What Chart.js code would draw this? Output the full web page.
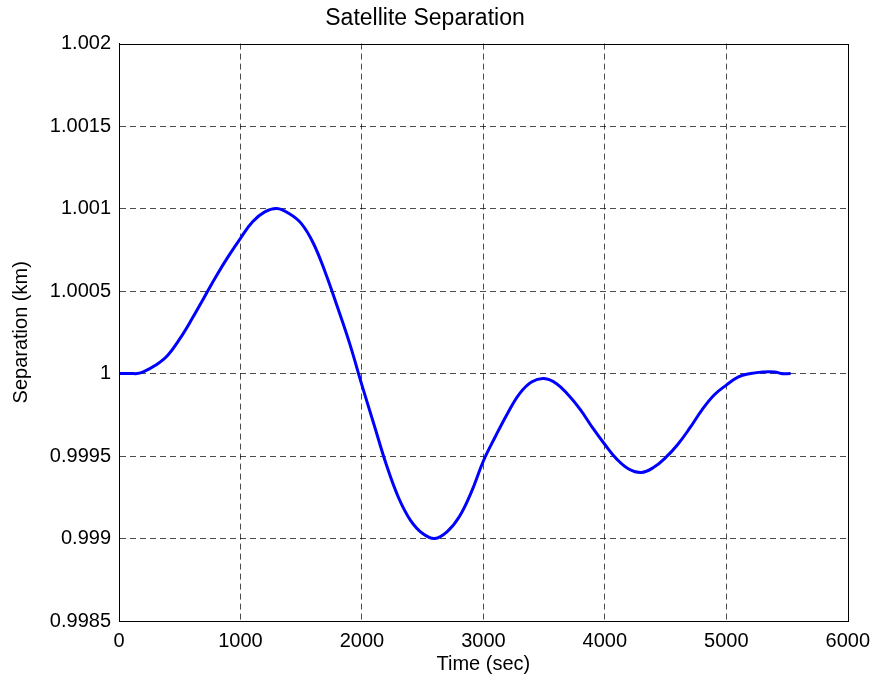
<!DOCTYPE html>
<html>
<head>
<meta charset="utf-8">
<script src="https://cdn.jsdelivr.net/npm/chart.js@4/dist/chart.umd.min.js"></script>
<style>
  html, body { margin: 0; padding: 0; background: #fff; }
  #wrap { width: 878px; height: 684px; }
</style>
</head>
<body>
<div id="wrap"><canvas id="myChart" width="878" height="684"></canvas></div>
<script>
// time (sec) and separation (km)
var timeSec = [0, 100, 150, 200, 300, 400, 500, 600, 700, 800, 900, 1000, 1100, 1200, 1300,
  1400, 1500, 1600, 1700, 1800, 1900, 2000, 2100, 2200, 2300, 2400, 2500, 2600, 2700, 2800,
  2900, 3000, 3100, 3200, 3300, 3400, 3500, 3600, 3700, 3800, 3900, 4000, 4100, 4200, 4300,
  4400, 4500, 4600, 4700, 4800, 4900, 5000, 5100, 5200, 5300, 5400, 5450, 5530]
var separation = [1.0, 1.0, 1.0, 1.00001, 1.00005, 1.00011, 1.00021, 1.00033, 1.00046, 1.00059,
  1.00071, 1.00082, 1.00092, 1.00098, 1.001, 1.00097, 1.00091, 1.00079, 1.00061, 1.0004,
  1.00018, 0.99993, 0.99969, 0.99945, 0.99925, 0.99911, 0.99903, 0.999, 0.99904, 0.99913,
  0.99928, 0.99947, 0.99962, 0.99976, 0.99988, 0.99995, 0.99997, 0.99994, 0.99987, 0.99978,
  0.99967, 0.99957, 0.99948, 0.99942, 0.9994, 0.99943, 0.99949, 0.99957, 0.99967, 0.99978,
  0.99987, 0.99993, 0.99998, 1.0, 1.00001, 1.00001, 1.0, 1.0]

var xTicks = [0, 1000, 2000, 3000, 4000, 5000, 6000]
var yTicks = [0.9985, 0.999, 0.9995, 1, 1.0005, 1.001, 1.0015, 1.002]

var points = []
timeSec.forEach(function (t, i) {
  points.push({x: t, y: separation[i]})
})

var fontFam = "'Liberation Sans', Arial, Helvetica, sans-serif"

// no dashed line on top of the frame
function gridColor(c) {
  var n = c.scale.ticks.length
  return (c.index === 0 || c.index === n - 1) ? 'rgba(0,0,0,0)' : 'rgba(0,0,0,0.7)'
}

// black frame round the plot area
var boxPlugin = {
  id: 'box',
  afterDraw: function (chart) {
    var a = chart.chartArea, ctx = chart.ctx
    ctx.save()
    ctx.strokeStyle = '#000'
    ctx.lineWidth = 1
    ctx.strokeRect(Math.round(a.left) + 0.5, Math.round(a.top) + 0.5,
      Math.round(a.right - a.left), Math.round(a.bottom - a.top))
    ctx.restore()
  }
}

var ctx = document.getElementById("myChart")
var myChart = new Chart(ctx, {
  type: 'line',
  data: {
    datasets: [{
      label: 'Separation',
      data: points,
      borderColor: '#0000ff',
      borderWidth: 3,
      pointRadius: 0,
      fill: false,
      tension: 0.4
    }]
  },
  options: {
    responsive: false,
    animation: false,
    layout: { padding: { left: 0, right: 28, top: 0, bottom: 0 } },
    plugins: {
      legend: { display: false },
      tooltip: { enabled: false },
      title: {
        display: true,
        text: 'Satellite Separation',
        color: '#000',
        font: { family: fontFam, size: 23, weight: 'normal' },
        padding: { top: 5, bottom: 11 }
      }
    },
    scales: {
      x: {
        type: 'linear',
        min: xTicks[0],
        max: xTicks[xTicks.length - 1],
        afterBuildTicks: function (s) { s.ticks = xTicks.map(function (v) { return {value: v} }) },
        afterFit: function (s) { s.height = 63 },
        grid: { color: gridColor, lineWidth: 1, drawTicks: false },
        border: { color: '#000', dash: [6, 4] },
        ticks: {
          color: '#000', padding: 8, maxRotation: 0,
          font: { family: fontFam, size: 20 },
          callback: function (v) { return String(v) }
        },
        title: {
          display: true, text: 'Time (sec)', color: '#000',
          font: { family: fontFam, size: 20 },
          padding: { top: 0, bottom: 8 }
        }
      },
      y: {
        type: 'linear',
        min: yTicks[0],
        max: yTicks[yTicks.length - 1],
        afterBuildTicks: function (s) { s.ticks = yTicks.map(function (v) { return {value: v} }) },
        afterFit: function (s) { s.width = 119 },
        grid: { color: gridColor, lineWidth: 1, drawTicks: false },
        border: { color: '#000', dash: [6, 4] },
        ticks: {
          color: '#000', padding: 8,
          font: { family: fontFam, size: 20 },
          callback: function (v) { return String(Number(v.toFixed(4))) }
        },
        title: {
          display: true, text: 'Separation (km)', color: '#000',
          font: { family: fontFam, size: 20 },
          padding: { top: 9, bottom: 0 }
        }
      }
    }
  },
  plugins: [boxPlugin]
})
</script>
</body>
</html>
